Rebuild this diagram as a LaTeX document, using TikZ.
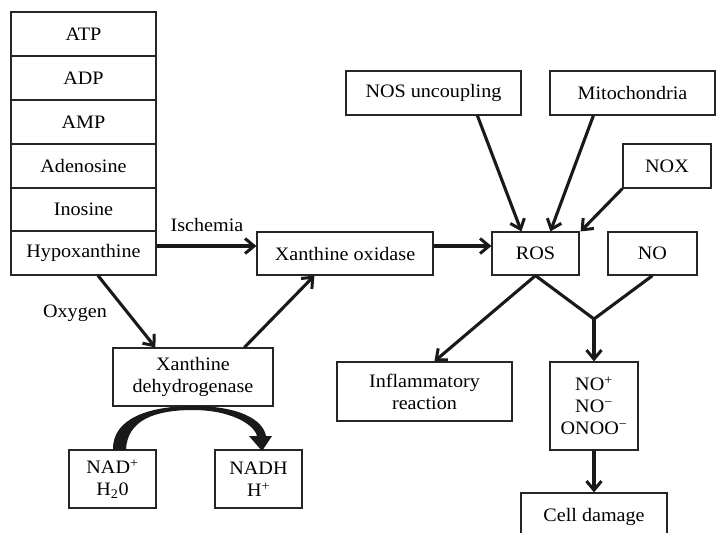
\documentclass[tikz,border=0pt]{standalone}
\usepackage{fontspec}
\setmainfont[FakeStretch=1.06]{Liberation Serif}
\usetikzlibrary{arrows.meta}
\begin{document}
\begin{tikzpicture}[x=1pt,y=-1pt,
  box/.style={draw=black!85,line width=1.2pt,rectangle,inner sep=0pt,align=center,
     font=\fontsize{19}{22}\selectfont},
  arr/.style={draw=black!90,line width=3.1pt,-{Straight Barb[length=9pt,width=15pt,line width=3pt]}},
  ln/.style={draw=black!90,line width=3.1pt},
  lbl/.style={font=\fontsize{19}{22}\selectfont,inner sep=0pt}]
\useasboundingbox (0,0) rectangle (716,533);
% left stack
\node[box,minimum width=145pt,minimum height=44pt] (atp) at (83.5,34) {ATP};
\node[box,minimum width=145pt,minimum height=44pt] (adp) at (83.5,78) {ADP};
\node[box,minimum width=145pt,minimum height=44pt] (amp) at (83.5,122) {AMP};
\node[box,minimum width=145pt,minimum height=44pt] (ado) at (83.5,166) {Adenosine};
\node[box,minimum width=145pt,minimum height=43pt] (ino) at (83.5,209.5) {Inosine};
\node[box,minimum width=145pt,minimum height=44pt] (hypo) at (83.5,253) {Hypoxanthine};
% middle
\node[box,minimum width=176pt,minimum height=43pt] (xo) at (345,253.5) {Xanthine oxidase};
\node[box,minimum width=160pt,minimum height=58pt] (xdh) at (193,377) {Xanthine\\dehydrogenase};
\node[box,minimum width=87pt,minimum height=58pt] (nad) at (112.5,479) {NAD\textsuperscript{+}\\H\textsubscript{2}0};
\node[box,minimum width=87pt,minimum height=58pt] (nadh) at (258.5,479) {NADH\\H\textsuperscript{+}};
% right
\node[box,minimum width=175pt,minimum height=44pt] (nos) at (433.5,93) {NOS uncoupling};
\node[box,minimum width=165pt,minimum height=44pt] (mito) at (632.5,93) {Mitochondria};
\node[box,minimum width=88pt,minimum height=44pt] (nox) at (667,166) {NOX};
\node[box,minimum width=87pt,minimum height=43pt] (ros) at (535.5,253.5) {ROS};
\node[box,minimum width=89pt,minimum height=43pt] (no) at (652.5,253.5) {NO};
\node[box,minimum width=175pt,minimum height=59pt] (inf) at (424.5,391.5) {Inflammatory\\reaction};
\node[box,minimum width=88pt,minimum height=88pt] (nox2) at (594,406) {NO\textsuperscript{+}\\NO\textsuperscript{−}\\ONOO\textsuperscript{−}};
\node[box,minimum width=146pt,minimum height=54pt,text depth=0pt] (cell) at (594,520) {};
\node[lbl] (celltxt) at (594,517) {Cell damage};
\coordinate (junc) at (594,319);
% labels
\node[lbl] (isch) at (207,225) {Ischemia};
\node[lbl] (oxy) at (75,313) {Oxygen};
% connectors
\draw[arr] ([yshift=7pt]hypo.east) -- ([yshift=7.5pt]xo.west);
\draw[arr] ([xshift=14.5pt]hypo.south) -- ([xshift=43pt]xdh.north west);
\draw[arr] ([xshift=132pt]xdh.north west) -- ([xshift=58pt]xo.south west);
\draw[arr] ([yshift=7.5pt]xo.east) -- ([yshift=7.5pt]ros.west);
\draw[arr] ([xshift=132pt]nos.south west) -- ([xshift=30pt]ros.north west);
\draw[arr] ([xshift=44pt]mito.south west) -- ([xshift=59pt]ros.north west);
\draw[arr] (nox.south west) -- ([xshift=1pt]ros.north east);
\draw[ln,line join=miter] (ros.south) -- (junc) -- (no.south);
\draw[arr] (junc) -- (nox2.north);
\draw[arr] (ros.south) -- ([xshift=98pt]inf.north west);
\draw[arr] (nox2.south) -- (cell.north);
% curved NAD -> NADH arrow
\fill[black!90] (113,450) .. controls (112,418) and (150,406) .. (193,406)
  .. controls (240,406) and (263,420) .. (266,436) -- (272,436) -- (262,451) -- (249,436) -- (257,436)
  .. controls (254,424) and (230,410) .. (193,410)
  .. controls (155,410) and (127,420) .. (126,450) -- cycle;
\end{tikzpicture}
\end{document}
